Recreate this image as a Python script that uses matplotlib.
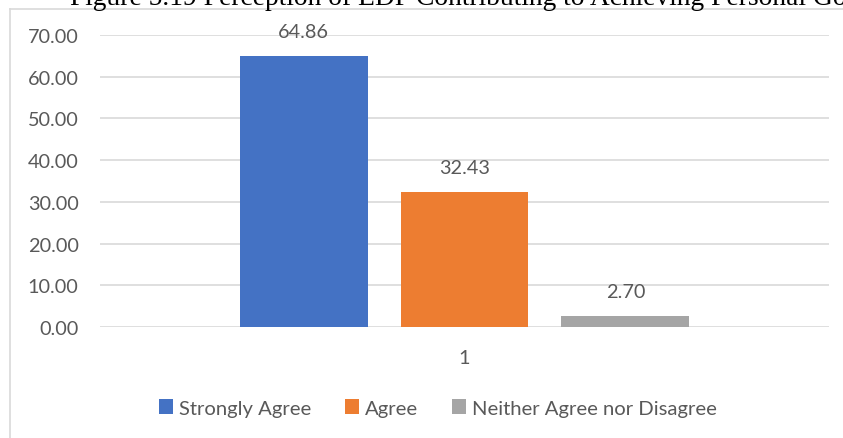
import matplotlib
matplotlib.use("Agg")
import matplotlib.pyplot as plt
from matplotlib.lines import Line2D
from matplotlib.patches import Patch

# Data
categories = ["Strongly Agree", "Agree", "Neither Agree nor Disagree"]
values = [64.86, 32.43, 2.70]
colors = ["#4472C4", "#ED7D31", "#A5A5A5"]
group_label = "1"
title = "Figure 5.19 Perception of EDP Contributing to Achieving Personal Goals"
yticks = [0, 10, 20, 30, 40, 50, 60, 70]

W, H = 843, 439
DPI = 100
plt.rcParams["font.family"] = ["Lato", "DejaVu Sans"]
text_color = "#595959"
grid_color = "#D9D9D9"

fig = plt.figure(figsize=(W / DPI, H / DPI), dpi=DPI)
fig.patch.set_facecolor("white")

# chart frame (left and top edges)
fig.add_artist(Line2D([10 / W, 10 / W], [0, 1 - 9.5 / H], transform=fig.transFigure,
                      color=grid_color, lw=1.2))
fig.add_artist(Line2D([10 / W, 1], [1 - 9.5 / H, 1 - 9.5 / H], transform=fig.transFigure,
                      color=grid_color, lw=1.2))

# title, partially above the figure edge
fig.text(70 / W, 1 - 5 / H, title, family="Liberation Serif", fontsize=19.8,
         color="black", ha="left", va="baseline")

left, right = 100 / W, 829 / W
bottom, top = 1 - 328 / H, 1 - 36 / H
ax = fig.add_axes([left, bottom, right - left, top - bottom])

offsets = [-1, 0, 1]
bw = 128 / 161
for off, v, c, lab in zip(offsets, values, colors, categories):
    ax.bar(off, v, width=bw, color=c, label=lab, zorder=3)
    ax.annotate(f"{v:.2f}", xy=(off, v), xytext=(0, 16), textcoords="offset pixels",
                ha="center", va="bottom", fontsize=14.3, color=text_color, zorder=4)

ax.set_ylim(0, 70)
ax.set_xlim(-2.264, 2.264)
ax.set_yticks(yticks)
ax.set_yticklabels([f"{t:.2f}" for t in yticks])
ax.set_xticks([0])
ax.set_xticklabels([group_label])
ax.tick_params(axis="both", length=0, labelsize=14.3, colors=text_color)
ax.tick_params(axis="y", pad=15.5)
ax.tick_params(axis="x", pad=16)
ax.yaxis.grid(True, color=grid_color, lw=1.2, zorder=0)
ax.set_axisbelow(True)
for s in ax.spines.values():
    s.set_visible(False)
ax.set_facecolor("none")

handles = [Patch(facecolor=c, edgecolor="none") for c in colors]
fig.legend(handles, categories, loc="center", bbox_to_anchor=(438 / W, 1 - 409 / H),
           ncol=3, frameon=False, fontsize=14.6, labelcolor=text_color,
           handlelength=0.7, handleheight=0.7, handletextpad=0.3, columnspacing=1.65)

fig.savefig("out.png", dpi=DPI, facecolor="white")
